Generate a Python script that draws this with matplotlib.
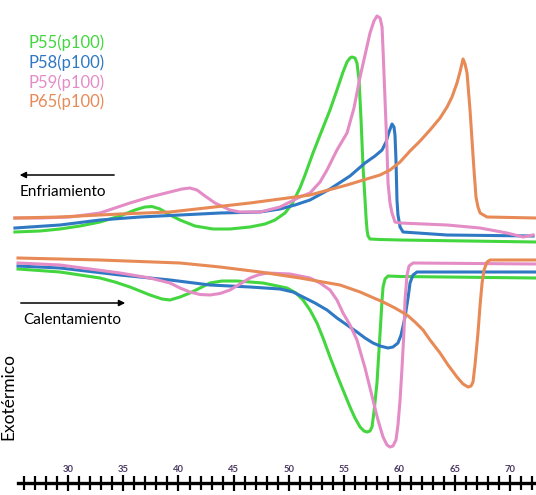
import matplotlib
matplotlib.use("Agg")
import matplotlib.pyplot as plt
from matplotlib.ticker import MultipleLocator, FixedLocator

plt.rcParams['font.family'] = ['Lato', 'DejaVu Sans']

## ---- datos leídos del termograma (x en °C, y en unidades de flujo arbitrarias, hacia abajo = exotérmico)
# enfriamiento (curvas superiores)
p55_enf_x = [25.20, 27.47, 29.28, 31.09, 32.90, 34.71, 36.06, 36.97, 37.60, 38.33, 39.23, 40.14, 41.49,
             43.12, 44.66, 46.47, 47.83, 48.73, 49.64, 50.27, 50.99, 51.45, 52.17, 52.99, 53.71, 54.34,
             54.89, 55.25, 55.52, 55.70, 55.97, 56.15, 56.34, 56.52, 56.70, 56.88, 56.97, 57.06, 57.15,
             57.33, 58.24, 60.05, 72.35]
p55_enf_y = [232, 231, 229, 226, 222, 216, 210, 207, 206.5, 209, 215, 220, 226,
             229, 229, 227, 224, 220, 213, 204, 188, 175, 153, 130, 110, 90,
             72, 62, 58, 57, 58, 63, 80, 120, 167, 200, 217, 230, 236,
             239, 239.5, 240, 242]

p58_enf_x = [25.20, 29.28, 32.90, 36.52, 40.14, 43.76, 47.38, 49.19, 50.54, 51.90, 53.71, 55.52, 56.88,
             57.78, 58.42, 58.78, 59.05, 59.32, 59.50, 59.59, 59.68, 59.77, 59.86, 60.05, 60.32, 64.30, 72.08]
p58_enf_y = [228, 225, 220, 217, 215, 213, 212, 209, 205, 200, 189, 176, 163,
             156, 150, 142, 132, 124, 127, 135, 160, 200, 215, 227, 232, 235, 236]

p59_enf_x = [25.20, 27.47, 30.18, 31.54, 32.90, 34.25, 35.61, 37.42, 39.23, 40.32, 41.04, 41.67, 42.40,
             43.30, 44.66, 45.57, 47.38, 49.19, 50.99, 51.90, 52.81, 53.44, 54.34, 55.25, 55.88, 56.43,
             56.88, 57.33, 57.69, 57.96, 58.24, 58.42, 58.51, 58.69, 58.87, 58.96, 59.14, 59.32, 59.59,
             60.05, 64.30, 67.29, 69.73, 71.18, 72.08]
p59_enf_y = [218, 218, 217, 215, 213, 208, 203, 197, 192, 189, 188, 190, 196,
             203, 210, 212, 212, 207, 197, 193, 182, 170, 150, 133, 108, 77,
             55, 33, 21, 16, 18, 27, 50, 100, 150, 183, 203, 213, 222,
             223, 225, 228, 233, 237, 235]

p65_enf_x = [25.20, 29.28, 34.71, 39.23, 46.47, 51.90, 55.25, 57.33, 58.24, 59.14, 60.05, 60.95, 61.86,
             62.76, 63.67, 64.30, 64.75, 65.20, 65.47, 65.75, 65.93, 66.11, 66.38, 66.56, 66.74, 66.92,
             67.10, 67.29, 67.92, 72.35]
p65_enf_y = [218, 217, 214, 212, 203, 195, 185, 178, 175, 170, 162, 151, 141,
             130, 118, 107, 97, 83, 72, 59, 64, 73, 110, 140, 170, 197,
             207, 213, 217, 218]

# calentamiento (curvas inferiores)
p55_cal_x = [25.48, 29.28, 32.90, 34.25, 35.61, 37.42, 38.51, 39.23, 40.14, 41.04, 41.95, 42.85, 43.94,
             45.29, 47.65, 49.82, 50.63, 51.27, 51.90, 52.53, 53.08, 53.71, 54.34, 54.89, 55.52, 55.97,
             56.43, 56.79, 57.06, 57.33, 57.51, 57.69, 57.96, 58.24, 58.42, 58.51, 58.69, 58.96, 60.05, 72.35]
p55_cal_y = [269, 272, 278, 282, 287, 295, 299, 300, 297, 293, 288, 283, 281,
             281, 283, 288, 293, 300, 310, 323, 338, 357, 375, 390, 407, 418,
             427, 431, 432, 431, 427, 412, 383, 333, 300, 287, 279, 276, 276.5, 278]

p58_cal_x = [25.48, 29.28, 34.71, 39.23, 42.85, 46.47, 49.19, 50.36, 51.27, 52.35, 53.44, 54.34, 55.25,
             56.15, 56.88, 57.60, 58.24, 58.96, 59.41, 59.86, 60.14, 60.32, 60.50, 60.77, 60.95, 61.22,
             61.58, 72.35]
p58_cal_y = [266, 268, 275, 280, 285, 287, 289, 292, 297, 303, 310, 318, 325,
             332, 338, 343, 346, 348, 347, 343, 335, 326, 317, 298, 283, 275,
             272, 272]

p59_cal_x = [25.48, 29.28, 34.71, 37.42, 39.23, 40.14, 41.04, 41.95, 42.85, 43.76, 44.66, 45.57, 46.47,
             47.19, 48.01, 50.09, 51.90, 52.81, 53.71, 54.34, 54.89, 55.52, 56.15, 56.88, 57.60, 58.05,
             58.51, 58.87, 59.14, 59.41, 59.68, 59.86, 60.05, 60.23, 60.41, 60.50, 60.68, 60.86, 61.22, 72.35]
p59_cal_y = [263, 265, 273, 278, 283, 288, 292, 294.5, 295, 293.5, 290, 284, 278,
             275, 273, 274, 278, 283, 290, 300, 313, 325, 340, 368, 400, 420,
             437, 445, 447, 446, 440, 425, 400, 367, 330, 300, 275, 266, 263, 264]

p65_cal_x = [25.48, 32.90, 40.14, 43.76, 47.38, 50.99, 54.62, 56.43, 58.51, 59.59, 60.68, 61.40, 62.13,
             62.76, 63.67, 64.39, 65.20, 65.75, 66.20, 66.47, 66.65, 66.83, 67.10, 67.29, 67.47, 67.65,
             67.92, 68.19, 72.35]
p65_cal_y = [258, 260, 263, 267, 272, 278, 285, 292, 302, 308, 315, 322, 330,
             340, 353, 365, 377, 384, 387, 386, 382, 365, 333, 305, 283, 270,
             262, 260, 260]

etiquetas = ["P55(p100)", "P58(p100)", "P59(p100)", "P65(p100)"]
colores = ["#43d63f", "#2f78c4", "#e48cc6", "#e78a56"]
ticks_mayores = [30, 35, 40, 45, 50, 55, 60, 65, 70]

enfriamiento = [(p55_enf_x, p55_enf_y), (p58_enf_x, p58_enf_y), (p59_enf_x, p59_enf_y), (p65_enf_x, p65_enf_y)]
calentamiento = [(p55_cal_x, p55_cal_y), (p58_cal_x, p58_cal_y), (p59_cal_x, p59_cal_y), (p65_cal_x, p65_cal_y)]

## ---- figura
fig = plt.figure(figsize=(5.36, 4.95), dpi=100)
ax = fig.add_axes([0, 0, 1, 1])
ax.set_xlim(23.85, 72.35)
ax.set_ylim(495, 0)

for (xe, ye), (xc, yc), c in zip(enfriamiento, calentamiento, colores):
    ax.plot(xe, ye, color=c, lw=2.2, solid_joinstyle='round')
    ax.plot(xc, yc, color=c, lw=2.2, solid_joinstyle='round')

# leyenda como texto coloreado
for i, (lab, c) in enumerate(zip(etiquetas, colores)):
    ax.text(26.4, 43 + 19.7 * i, lab, color=c, fontsize=12, va='center', ha='left')

# flechas de dirección
ax.annotate("", xy=(25.38, 175), xytext=(34.43, 175),
            arrowprops=dict(arrowstyle='-|>', color='black', lw=1.1, mutation_scale=9))
ax.text(25.66, 192, "Enfriamiento", fontsize=11, va='center', ha='left')
ax.annotate("", xy=(35.43, 303), xytext=(25.48, 303),
            arrowprops=dict(arrowstyle='-|>', color='black', lw=1.1, mutation_scale=9))
ax.text(25.95, 320, "Calentamiento", fontsize=11, va='center', ha='left')
ax.text(24.65, 397, "Exotérmico", fontsize=12.5, rotation=90, va='center', ha='center')

## ---- regla de temperatura
for s in ['left', 'right', 'bottom']:
    ax.spines[s].set_visible(False)
ax.spines['top'].set_position(('data', 483))
ax.spines['top'].set_linewidth(2.4)
ax.spines['top'].set_bounds(25.5, 72.35)
ax.yaxis.set_visible(False)
ax.xaxis.set_ticks_position('top')
ax.xaxis.set_major_locator(FixedLocator(ticks_mayores))
ax.xaxis.set_minor_locator(FixedLocator(list(range(26, 73))))
ax.tick_params(axis='x', which='major', direction='inout', length=12, width=1.6,
               labelsize=6.8, labelcolor='#4b3a63', pad=0.5)
ax.tick_params(axis='x', which='minor', direction='inout', length=9.5, width=1.6)
ax.set_xticklabels([str(t) for t in ticks_mayores], fontweight='bold')

fig.savefig("out.png", dpi=100)
